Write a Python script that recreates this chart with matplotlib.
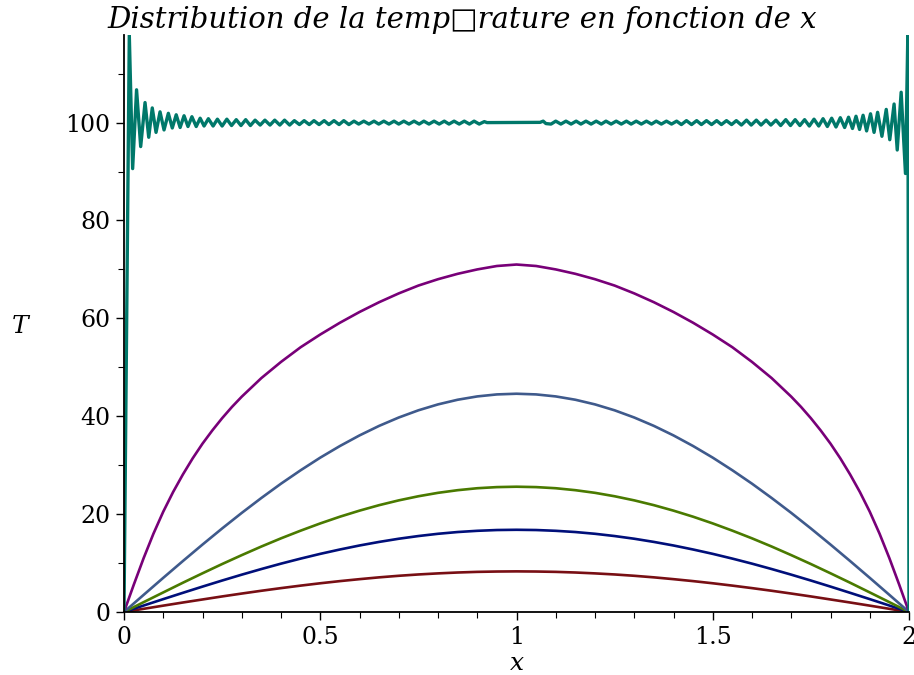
import matplotlib
matplotlib.use("Agg")
import matplotlib.pyplot as plt

# sample abscissae for the smooth curves (x = 0 .. 2, step 0.05)
x_smooth = [0.00, 0.05, 0.10, 0.15, 0.20, 0.25, 0.30, 0.35, 0.40, 0.45,
            0.50, 0.55, 0.60, 0.65, 0.70, 0.75, 0.80, 0.85, 0.90, 0.95,
            1.00, 1.05, 1.10, 1.15, 1.20, 1.25, 1.30, 1.35, 1.40, 1.45,
            1.50, 1.55, 1.60, 1.65, 1.70, 1.75, 1.80, 1.85, 1.90, 1.95, 2.00]

T_red = [0.00, 0.65, 1.30, 1.94, 2.56, 3.18, 3.77, 4.34, 4.88, 5.39,
         5.87, 6.31, 6.71, 7.08, 7.40, 7.67, 7.89, 8.07, 8.20, 8.27,
         8.30, 8.27, 8.20, 8.07, 7.89, 7.67, 7.40, 7.08, 6.71, 6.31,
         5.87, 5.39, 4.88, 4.34, 3.77, 3.18, 2.56, 1.94, 1.30, 0.65, 0.00]

T_navy = [0.00, 1.32, 2.63, 3.92, 5.19, 6.43, 7.63, 8.78, 9.88, 10.91,
          11.88, 12.77, 13.59, 14.32, 14.97, 15.52, 15.98, 16.34, 16.59, 16.75,
          16.80, 16.75, 16.59, 16.34, 15.98, 15.52, 14.97, 14.32, 13.59, 12.77,
          11.88, 10.91, 9.88, 8.78, 7.63, 6.43, 5.19, 3.92, 2.63, 1.32, 0.00]

T_green = [0.00, 2.01, 4.00, 5.98, 7.91, 9.80, 11.62, 13.38, 15.05, 16.62,
           18.10, 19.47, 20.71, 21.83, 22.81, 23.65, 24.35, 24.89, 25.29, 25.52,
           25.60, 25.52, 25.29, 24.89, 24.35, 23.65, 22.81, 21.83, 20.71, 19.47,
           18.10, 16.62, 15.05, 13.38, 11.62, 9.80, 7.91, 5.98, 4.00, 2.01, 0.00]

T_blue = [0.00, 3.50, 6.98, 10.41, 13.78, 17.07, 20.25, 23.30, 26.22, 28.96,
          31.54, 33.91, 36.08, 38.03, 39.74, 41.21, 42.42, 43.37, 44.05, 44.46,
          44.60, 44.46, 44.05, 43.37, 42.42, 41.21, 39.74, 38.03, 36.08, 33.91,
          31.54, 28.96, 26.22, 23.30, 20.25, 17.07, 13.78, 10.41, 6.98, 3.50, 0.00]

# purple curve is steep near the walls, so it is read on a finer grid there
x_purple = [0.000, 0.025, 0.050, 0.075, 0.100, 0.125, 0.150, 0.175, 0.200, 0.225,
            0.250, 0.275, 0.300, 0.350, 0.400, 0.450, 0.500, 0.550, 0.600, 0.650,
            0.700, 0.750, 0.800, 0.850, 0.900, 0.950, 1.000, 1.050, 1.100, 1.150,
            1.200, 1.250, 1.300, 1.350, 1.400, 1.450, 1.500, 1.550, 1.600, 1.650,
            1.700, 1.725, 1.750, 1.775, 1.800, 1.825, 1.850, 1.875, 1.900, 1.925,
            1.950, 1.975, 2.000]
T_purple = [0.0, 5.6, 11.0, 16.0, 20.5, 24.5, 28.1, 31.4, 34.4, 37.1,
            39.6, 41.9, 44.0, 47.8, 51.1, 54.1, 56.7, 59.1, 61.3, 63.3,
            65.1, 66.7, 68.0, 69.1, 70.0, 70.7, 71.0, 70.7, 70.0, 69.1,
            68.0, 66.7, 65.1, 63.3, 61.3, 59.1, 56.7, 54.1, 51.1, 47.8,
            44.0, 41.9, 39.6, 37.1, 34.4, 31.4, 28.1, 24.5, 20.5, 16.0,
            11.0, 5.6, 0.0]

# t = 0 curve: truncated series, read at its extrema
x_t0 = [0.000, 0.0135, 0.022, 0.032, 0.0425, 0.0536, 0.063, 0.072, 0.0816, 0.0918,
        0.102, 0.113, 0.123, 0.133, 0.143, 0.153, 0.163, 0.173, 0.184, 0.194,
        0.204, 0.215, 0.227, 0.238, 0.250, 0.262, 0.274, 0.286, 0.298, 0.310,
        0.322, 0.334, 0.347, 0.359, 0.372, 0.384, 0.397, 0.409, 0.422, 0.434,
        0.447, 0.459, 0.472, 0.484, 0.497, 0.510, 0.522, 0.535, 0.548, 0.560,
        0.573, 0.586, 0.598, 0.611, 0.624, 0.637, 0.649, 0.662, 0.675, 0.688,
        0.700, 0.713, 0.726, 0.739, 0.752, 0.764, 0.777, 0.790, 0.803, 0.816,
        0.828, 0.841, 0.854, 0.867, 0.880, 0.892, 0.905, 0.918, 0.925,
        1.060, 1.068, 1.075,
        1.088, 1.100, 1.113, 1.126, 1.139, 1.152, 1.164, 1.177, 1.190, 1.203,
        1.216, 1.228, 1.241, 1.254, 1.267, 1.280, 1.292, 1.305, 1.318, 1.331,
        1.344, 1.356, 1.369, 1.382, 1.395, 1.408, 1.420, 1.433, 1.446, 1.459,
        1.471, 1.484, 1.497, 1.510, 1.522, 1.535, 1.548, 1.560, 1.573, 1.586,
        1.598, 1.611, 1.623, 1.636, 1.648, 1.661, 1.673, 1.686, 1.698, 1.710,
        1.722, 1.734, 1.746, 1.758, 1.770, 1.781, 1.792, 1.803, 1.814, 1.825,
        1.836, 1.846, 1.856, 1.865, 1.874, 1.883, 1.892, 1.902, 1.911, 1.920,
        1.931, 1.942, 1.951, 1.962, 1.970, 1.980, 1.991, 1.997, 2.000]
T_t0 = [0.0, 117.9, 90.6, 106.7, 95.1, 104.1, 97.0, 103.0, 98.0, 102.2,
        98.5, 101.9, 98.9, 101.6, 99.0, 101.4, 99.2, 101.2, 99.2, 100.9,
        99.3, 100.8, 99.3, 100.7, 99.3, 100.7, 99.4, 100.6, 99.4, 100.6,
        99.4, 100.5, 99.5, 100.5, 99.5, 100.5, 99.5, 100.5, 99.5, 100.4,
        99.6, 100.4, 99.6, 100.4, 99.6, 100.4, 99.6, 100.4, 99.6, 100.4,
        99.6, 100.3, 99.7, 100.3, 99.7, 100.3, 99.7, 100.3, 99.7, 100.3,
        99.7, 100.3, 99.7, 100.3, 99.7, 100.3, 99.7, 100.3, 99.7, 100.3,
        99.7, 100.3, 99.7, 100.3, 99.7, 100.3, 99.7, 100.2, 100.0,
        100.05, 100.3, 99.8,
        99.7, 100.3, 99.7, 100.3, 99.7, 100.3, 99.7, 100.3, 99.7, 100.3,
        99.7, 100.3, 99.7, 100.3, 99.7, 100.3, 99.7, 100.3, 99.7, 100.3,
        99.7, 100.3, 99.7, 100.3, 99.7, 100.3, 99.6, 100.4, 99.6, 100.4,
        99.6, 100.4, 99.6, 100.4, 99.6, 100.4, 99.6, 100.4, 99.5, 100.5,
        99.5, 100.5, 99.5, 100.5, 99.5, 100.5, 99.4, 100.6, 99.4, 100.6,
        99.4, 100.6, 99.3, 100.7, 99.3, 100.8, 99.2, 100.9, 99.1, 101.0,
        99.0, 101.1, 98.8, 101.3, 98.6, 101.5, 98.3, 101.8, 98.0, 102.1,
        97.2, 102.7, 96.5, 103.8, 94.4, 106.2, 89.6, 117.9, 0.0]

x_ticks = [0, 0.5, 1, 1.5, 2]
x_tick_labels = ["0", "0.5", "1", "1.5", "2"]
T_ticks = [0, 20, 40, 60, 80, 100]

curves = [(x_smooth, T_red, "#780f14"), (x_smooth, T_navy, "#000f7a"),
          (x_smooth, T_green, "#4a7a00"), (x_smooth, T_blue, "#3f5a8c"),
          (x_purple, T_purple, "#780078")]

fig = plt.figure(figsize=(9.14, 6.75), dpi=100)
ax = fig.add_axes([124 / 914, 1 - 612 / 675, 785 / 914, 577 / 675])

for xs, T, col in curves:
    ax.plot(xs, T, color=col, lw=1.9, solid_joinstyle="round")
ax.plot(x_t0, T_t0, color="#00786a", lw=2.4, solid_joinstyle="round")

ax.set_xlim(0, 2)
ax.set_ylim(0, 117.9)
ax.set_xticks(x_ticks)
ax.set_xticklabels(x_tick_labels)
ax.set_xticks([0.1 * i for i in range(21)], minor=True)
ax.set_yticks(T_ticks)
ax.set_yticks([10 * i for i in range(12)], minor=True)

for s in ["top", "right"]:
    ax.spines[s].set_visible(False)
for s in ["left", "bottom"]:
    ax.spines[s].set_linewidth(1.3)

ax.tick_params(axis="both", which="major", direction="out", length=6, width=1,
               labelsize=17, pad=4)
ax.tick_params(axis="both", which="minor", direction="out", length=4, width=0.8)
for lab in ax.get_xticklabels() + ax.get_yticklabels():
    lab.set_family("DejaVu Serif")

ax.set_xlabel("x", family="DejaVu Serif", style="italic", fontsize=18, labelpad=2)
ax.yaxis.set_label_coords(-0.1325, 0.495)
ax.set_ylabel("T", family="DejaVu Serif", style="italic", fontsize=18, rotation=0,
              va="center", ha="center")

fig.text(462 / 914, 1 - 20 / 675, "Distribution de la temp\u25a1rature en fonction de x",
         family="DejaVu Serif", style="italic", fontsize=21, ha="center", va="center")

fig.savefig("out.png", dpi=100)
